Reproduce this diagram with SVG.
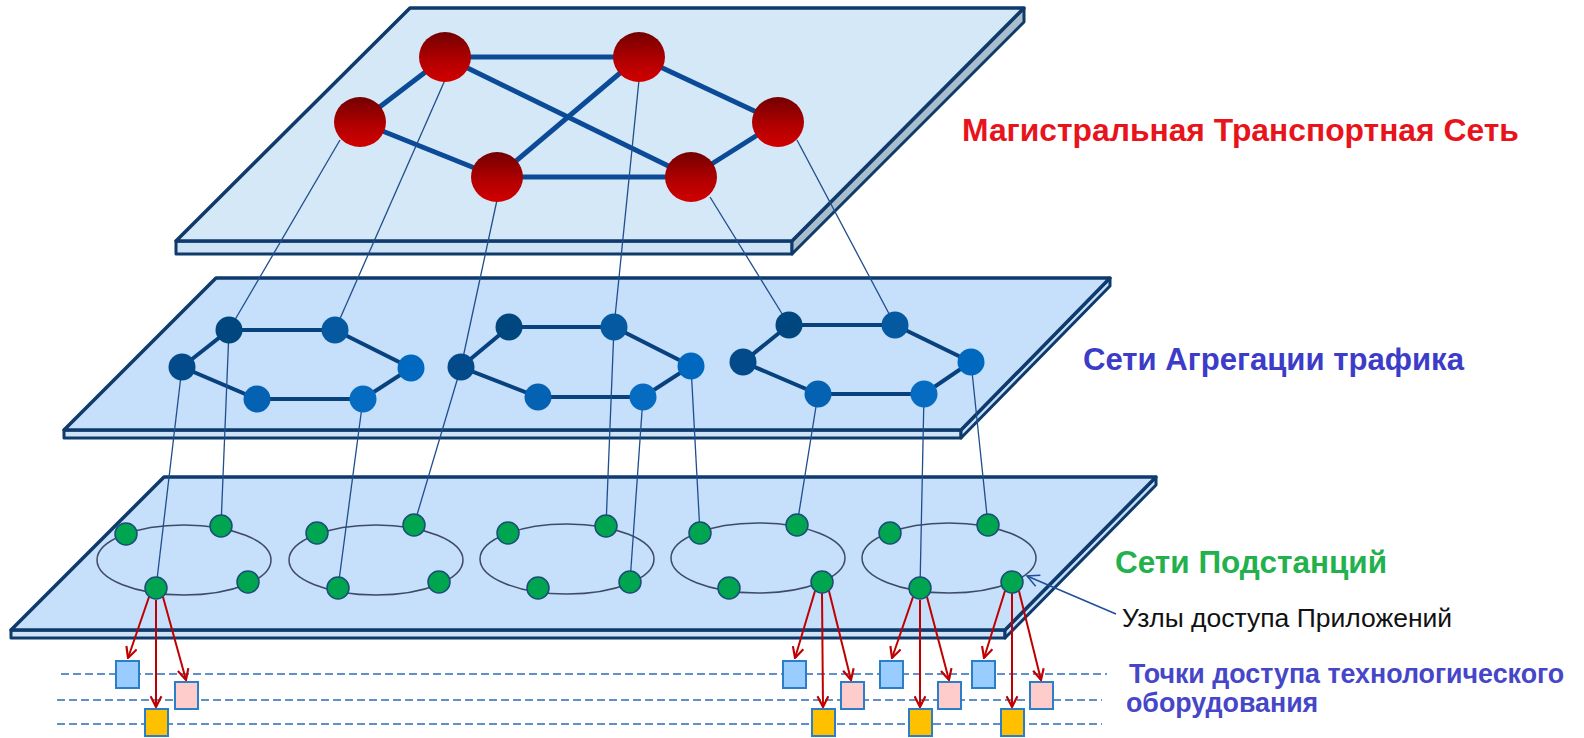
<svg xmlns="http://www.w3.org/2000/svg" width="1584" height="738" viewBox="0 0 1584 738">
  <defs>
    <linearGradient id="redGrad" x1="0" y1="0" x2="0" y2="1">
      <stop offset="0" stop-color="#730000"/>
      <stop offset="0.55" stop-color="#b00000"/>
      <stop offset="1" stop-color="#d20000"/>
    </linearGradient>
    <marker id="arrRed" viewBox="0 0 12 12" refX="11" refY="6" markerWidth="13" markerHeight="13" markerUnits="userSpaceOnUse" orient="auto">
      <path d="M1,1 L11,6 L1,11" fill="none" stroke="#c00000" stroke-width="2"/>
    </marker>
    <marker id="arrBlue" viewBox="0 0 14 14" refX="13" refY="7" markerWidth="14" markerHeight="14" markerUnits="userSpaceOnUse" orient="auto">
      <path d="M1,1 L13,7 L1,13" fill="none" stroke="#1f4e9c" stroke-width="1.5"/>
    </marker>
    <style>
      .face { fill: #c6dffa; stroke: #0e3a6c; stroke-width: 3.5; stroke-linejoin: round; }
      .faceTop { fill: #d5e8f8; stroke: #0e3a6c; stroke-width: 3.5; stroke-linejoin: round; }
      .front { fill: #cfe3f7; stroke: #0e3a6c; stroke-width: 3; stroke-linejoin: round; }
      .side { fill: #aabdcc; stroke: #0e3a6c; stroke-width: 3; stroke-linejoin: round; }
      .sideLow { fill: #c6dffa; stroke: #0e3a6c; stroke-width: 3; stroke-linejoin: round; }
      .core { fill: url(#redGrad); }
      .coreLink { stroke: #0a4a96; stroke-width: 5; fill: none; }
      .aggLink { stroke: #07427f; stroke-width: 4; fill: none; }
      .drop { stroke: #1f4e8c; stroke-width: 1.3; fill: none; }
      .ring { fill: none; stroke: #3d4b66; stroke-width: 1.5; }
      .sub { fill: #00a550; stroke: #1a4d7a; stroke-width: 1.5; }
      .dash { stroke: #2e6db4; stroke-width: 1.6; stroke-dasharray: 8 4; fill: none; }
      .feed { stroke: #c00000; stroke-width: 2; fill: none; marker-end: url(#arrRed); }
      .ptA { fill: #99ccff; stroke: #2b7fc8; stroke-width: 2; }
      .ptB { fill: #ffcccc; stroke: #2b7fc8; stroke-width: 2; }
      .ptC { fill: #ffc000; stroke: #2b7fc8; stroke-width: 2; }
      .hdr { font-family: "Liberation Sans", Arial, sans-serif; font-weight: bold; }
      .note { font-family: "Liberation Sans", Arial, sans-serif; font-size: 26.5px; fill: #111111; }
      .pts { font-family: "Liberation Sans", Arial, sans-serif; font-weight: bold; font-size: 26.8px; fill: #4646c8; }
    </style>
  </defs>

  <rect width="1584" height="738" fill="#ffffff"/>

  <!-- layer plates -->
  <g id="plane-core">
    <polygon class="front" points="176,241 792,241 792,254 176,254"/>
    <polygon class="side" points="792,241 1024,8 1024,22 792,254"/>
    <polygon class="faceTop" points="410,8 1024,8 792,241 176,241"/>
  </g>
  <g id="plane-aggregation">
    <polygon class="front" points="64,430 961,430 961,438 64,438"/>
    <polygon class="sideLow" points="961,430 1110,278 1110,286 961,438"/>
    <polygon class="face" points="216,278 1110,278 961,430 64,430"/>
  </g>
  <g id="plane-substation">
    <polygon class="front" points="11,630 1005,630 1005,638 11,638"/>
    <polygon class="sideLow" points="1005,630 1156,477 1156,485 1005,638"/>
    <polygon class="face" points="164,477 1156,477 1005,630 11,630"/>
  </g>

  <!-- equipment access levels -->
  <g id="levels">
    <line class="dash" x1="61" y1="674" x2="1107" y2="674"/>
    <line class="dash" x1="57" y1="700" x2="1102" y2="700"/>
    <line class="dash" x1="57" y1="724" x2="1102" y2="724"/>
  </g>

  <!-- substation rings -->
  <g id="rings">
    <ellipse class="ring" cx="184" cy="560" rx="87" ry="35"/>
    <ellipse class="ring" cx="376" cy="560" rx="87" ry="35"/>
    <ellipse class="ring" cx="567" cy="559" rx="87" ry="35"/>
    <ellipse class="ring" cx="758" cy="558" rx="87" ry="35"/>
    <ellipse class="ring" cx="949" cy="558" rx="87" ry="35"/>
  </g>

  <!-- connectors -->
  <g id="connectors">
    <!-- backbone mesh -->
    <line class="coreLink" x1="445" y1="57" x2="639" y2="57"/>
    <line class="coreLink" x1="445" y1="57" x2="360" y2="122"/>
    <line class="coreLink" x1="639" y1="57" x2="778" y2="122"/>
    <line class="coreLink" x1="445" y1="57" x2="691" y2="177"/>
    <line class="coreLink" x1="639" y1="57" x2="497" y2="177"/>
    <line class="coreLink" x1="360" y1="122" x2="497" y2="177"/>
    <line class="coreLink" x1="497" y1="177" x2="691" y2="177"/>
    <line class="coreLink" x1="778" y1="122" x2="691" y2="177"/>

    <!-- aggregation rings -->
    <polygon class="aggLink" points="182,367 229,330 335,330 411,368 363,399 257,399"/>
    <polygon class="aggLink" points="461,367 509,327 614,327 691,366 643,397 538,397"/>
    <polygon class="aggLink" points="743,362 789,325 895,325 971,362 924,394 818,394"/>

    <!-- backbone to aggregation -->
    <line class="drop" x1="340" y1="140" x2="229" y2="330"/>
    <line class="drop" x1="445" y1="80" x2="335" y2="330"/>
    <line class="drop" x1="497" y1="200" x2="461" y2="367"/>
    <line class="drop" x1="639" y1="80" x2="614" y2="327"/>
    <line class="drop" x1="710" y1="197" x2="789" y2="325"/>
    <line class="drop" x1="797" y1="140" x2="895" y2="325"/>

    <!-- aggregation to substations -->
    <line class="drop" x1="182" y1="367" x2="156" y2="588"/>
    <line class="drop" x1="229" y1="330" x2="221" y2="526"/>
    <line class="drop" x1="363" y1="399" x2="338" y2="588"/>
    <line class="drop" x1="461" y1="367" x2="414" y2="525"/>
    <line class="drop" x1="614" y1="327" x2="606" y2="526"/>
    <line class="drop" x1="643" y1="397" x2="630" y2="582"/>
    <line class="drop" x1="691" y1="366" x2="700" y2="533"/>
    <line class="drop" x1="818" y1="394" x2="797" y2="525"/>
    <line class="drop" x1="924" y1="394" x2="920" y2="588"/>
    <line class="drop" x1="971" y1="362" x2="988" y2="525"/>

    <!-- application access node feeds -->
    <line class="feed" x1="149" y1="597" x2="128" y2="658"/>
    <line class="feed" x1="156" y1="600" x2="156" y2="707"/>
    <line class="feed" x1="163" y1="597" x2="186" y2="680"/>

    <line class="feed" x1="815" y1="591" x2="795" y2="658"/>
    <line class="feed" x1="822" y1="593" x2="823" y2="707"/>
    <line class="feed" x1="829" y1="591" x2="851" y2="680"/>

    <line class="feed" x1="913" y1="597" x2="892" y2="658"/>
    <line class="feed" x1="920" y1="600" x2="920" y2="707"/>
    <line class="feed" x1="927" y1="597" x2="949" y2="680"/>

    <line class="feed" x1="1005" y1="591" x2="984" y2="658"/>
    <line class="feed" x1="1012" y1="593" x2="1012" y2="707"/>
    <line class="feed" x1="1019" y1="591" x2="1041" y2="680"/>

    <!-- callout to access node -->
    <line x1="1116" y1="614" x2="1027" y2="576" stroke="#1f4e9c" stroke-width="1.5" marker-end="url(#arrBlue)"/>
  </g>

  <!-- backbone nodes -->
  <g id="core-1"><ellipse class="core" cx="445" cy="57" rx="26" ry="25"/></g>
  <g id="core-2"><ellipse class="core" cx="639" cy="57" rx="26" ry="25"/></g>
  <g id="core-3"><ellipse class="core" cx="360" cy="122" rx="26" ry="25"/></g>
  <g id="core-4"><ellipse class="core" cx="778" cy="122" rx="26" ry="25"/></g>
  <g id="core-5"><ellipse class="core" cx="497" cy="177" rx="26" ry="25"/></g>
  <g id="core-6"><ellipse class="core" cx="691" cy="177" rx="26" ry="25"/></g>

  <!-- aggregation nodes -->
  <g id="agg-a0"><circle cx="182" cy="367" r="13.5" fill="#034a8a"/></g>
  <g id="agg-a1"><circle cx="229" cy="330" r="13.5" fill="#00467f"/></g>
  <g id="agg-a2"><circle cx="335" cy="330" r="13.5" fill="#0559a0"/></g>
  <g id="agg-a3"><circle cx="411" cy="368" r="13.5" fill="#0069bf"/></g>
  <g id="agg-a4"><circle cx="363" cy="399" r="13.5" fill="#066cc2"/></g>
  <g id="agg-a5"><circle cx="257" cy="399" r="13.5" fill="#0562b2"/></g>

  <g id="agg-b0"><circle cx="461" cy="367" r="13.5" fill="#034a8a"/></g>
  <g id="agg-b1"><circle cx="509" cy="327" r="13.5" fill="#00467f"/></g>
  <g id="agg-b2"><circle cx="614" cy="327" r="13.5" fill="#0559a0"/></g>
  <g id="agg-b3"><circle cx="691" cy="366" r="13.5" fill="#0069bf"/></g>
  <g id="agg-b4"><circle cx="643" cy="397" r="13.5" fill="#066cc2"/></g>
  <g id="agg-b5"><circle cx="538" cy="397" r="13.5" fill="#0562b2"/></g>

  <g id="agg-c0"><circle cx="743" cy="362" r="13.5" fill="#034a8a"/></g>
  <g id="agg-c1"><circle cx="789" cy="325" r="13.5" fill="#00467f"/></g>
  <g id="agg-c2"><circle cx="895" cy="325" r="13.5" fill="#0559a0"/></g>
  <g id="agg-c3"><circle cx="971" cy="362" r="13.5" fill="#0069bf"/></g>
  <g id="agg-c4"><circle cx="924" cy="394" r="13.5" fill="#066cc2"/></g>
  <g id="agg-c5"><circle cx="818" cy="394" r="13.5" fill="#0562b2"/></g>

  <!-- substation nodes -->
  <g id="sub-1a"><circle class="sub" cx="126" cy="534" r="11"/></g>
  <g id="sub-1b"><circle class="sub" cx="221" cy="526" r="11"/></g>
  <g id="sub-1c"><circle class="sub" cx="248" cy="582" r="11"/></g>
  <g id="sub-1d"><circle class="sub" cx="156" cy="588" r="11"/></g>

  <g id="sub-2a"><circle class="sub" cx="317" cy="533" r="11"/></g>
  <g id="sub-2b"><circle class="sub" cx="414" cy="525" r="11"/></g>
  <g id="sub-2c"><circle class="sub" cx="439" cy="582" r="11"/></g>
  <g id="sub-2d"><circle class="sub" cx="338" cy="588" r="11"/></g>

  <g id="sub-3a"><circle class="sub" cx="508" cy="533" r="11"/></g>
  <g id="sub-3b"><circle class="sub" cx="606" cy="526" r="11"/></g>
  <g id="sub-3c"><circle class="sub" cx="630" cy="582" r="11"/></g>
  <g id="sub-3d"><circle class="sub" cx="538" cy="588" r="11"/></g>

  <g id="sub-4a"><circle class="sub" cx="700" cy="533" r="11"/></g>
  <g id="sub-4b"><circle class="sub" cx="797" cy="525" r="11"/></g>
  <g id="sub-4c"><circle class="sub" cx="822" cy="582" r="11"/></g>
  <g id="sub-4d"><circle class="sub" cx="729" cy="588" r="11"/></g>

  <g id="sub-5a"><circle class="sub" cx="890" cy="533" r="11"/></g>
  <g id="sub-5b"><circle class="sub" cx="988" cy="525" r="11"/></g>
  <g id="sub-5c"><circle class="sub" cx="1012" cy="582" r="11"/></g>
  <g id="sub-5d"><circle class="sub" cx="920" cy="588" r="11"/></g>

  <!-- equipment access points -->
  <g id="pt-1">
    <rect class="ptA" x="116" y="661" width="23" height="27"/>
    <rect class="ptB" x="175" y="682" width="23" height="27"/>
    <rect class="ptC" x="145" y="709" width="23" height="27"/>
  </g>
  <g id="pt-2">
    <rect class="ptA" x="783" y="661" width="23" height="27"/>
    <rect class="ptB" x="841" y="682" width="23" height="27"/>
    <rect class="ptC" x="812" y="709" width="23" height="27"/>
  </g>
  <g id="pt-3">
    <rect class="ptA" x="880" y="661" width="23" height="27"/>
    <rect class="ptB" x="938" y="682" width="23" height="27"/>
    <rect class="ptC" x="909" y="709" width="23" height="27"/>
  </g>
  <g id="pt-4">
    <rect class="ptA" x="972" y="661" width="23" height="27"/>
    <rect class="ptB" x="1030" y="682" width="23" height="27"/>
    <rect class="ptC" x="1001" y="709" width="23" height="27"/>
  </g>

  <!-- labels -->
  <g id="labels">
    <text class="hdr" x="962" y="141" font-size="31.8" fill="#e8141c">Магистральная Транспортная Сеть</text>
    <text class="hdr" x="1083" y="370" font-size="31.1" fill="#3c3cc8">Сети Агрегации трафика</text>
    <text class="hdr" x="1115" y="573" font-size="31.5" fill="#22b14c">Сети Подстанций</text>
    <text class="note" x="1122" y="627">Узлы доступа Приложений</text>
    <text class="pts" x="1129" y="683">Точки доступа технологического</text>
    <text class="pts" x="1126" y="712">оборудования</text>
  </g>
</svg>
